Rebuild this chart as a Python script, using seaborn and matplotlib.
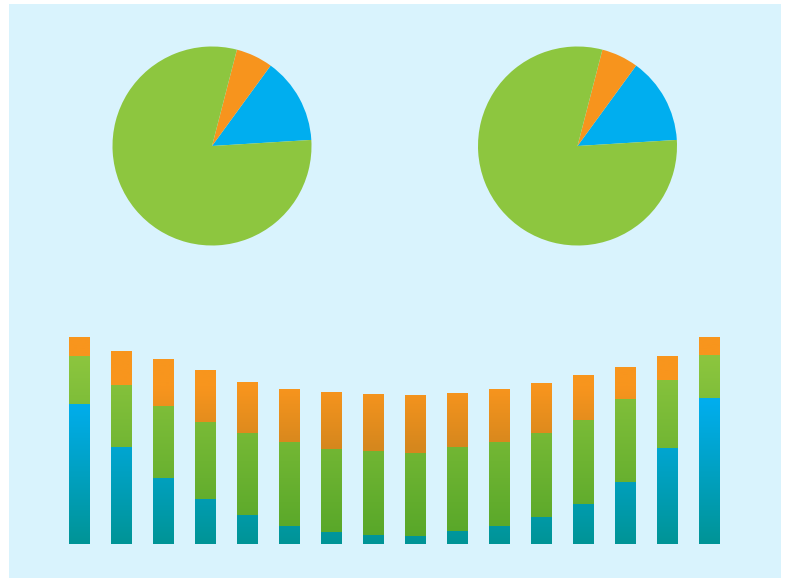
import numpy as np
import pandas as pd
import matplotlib
matplotlib.use("Agg")
import matplotlib.pyplot as plt
from matplotlib.path import Path
from matplotlib.patches import Rectangle
import seaborn as sns

sns.set_theme(style="white")

# ---- data ----
pie_labels = ["Blue", "Orange", "Green"]
pie_values = [14, 6, 80]

categories = [str(i) for i in range(1, 17)]
blue_vals = [67.6, 46.9, 31.9, 21.7, 14.0, 8.7, 5.8, 4.5, 4.0, 6.3, 8.7, 13.0, 19.5, 30.1, 46.5, 70.5]
green_vals = [23.3, 29.8, 34.8, 37.3, 39.6, 40.6, 40.1, 40.4, 40.0, 40.6, 40.6, 40.6, 40.6, 40.0, 32.9, 20.8]
orange_vals = [9.0, 16.6, 22.7, 25.0, 24.6, 25.5, 27.5, 27.5, 28.0, 26.1, 25.5, 24.2, 21.6, 15.5, 11.4, 8.7]

# ---- style ----
W, H = 787, 579
BG = "#d9f3fd"
pie_colors = ["#00aeef", "#f7941d", "#8dc63f"]

# gradient definitions: (y_top, color_top, y_bottom, color_bottom) in data units
grad = {
    "blue": (70, (0, 174, 239), 0, (0, 148, 150)),
    "green": (92, (141, 198, 63), 0, (86, 166, 40)),
    "orange": (76, (248, 149, 29), 46, (213, 135, 30)),
}

fig = plt.figure(figsize=(W / 100, H / 100), dpi=100)
fig.patch.set_facecolor("white")
fig.add_artist(Rectangle((9 / W, 1 - 578 / H), (781 - 9) / W, (578 - 4) / H,
                         transform=fig.transFigure, facecolor=BG, edgecolor="none", zorder=0))


def px_axes(x0, y0, x1, y1):
    return fig.add_axes([x0 / W, 1 - y1 / H, (x1 - x0) / W, (y1 - y0) / H])


# ---- pies ----
for cx in (212, 577.5):
    r = 99.5
    ax = px_axes(cx - r, 146 - r, cx + r, 146 + r)
    ax.pie(pie_values, colors=pie_colors, startangle=3.5, counterclock=True,
           wedgeprops=dict(linewidth=0, antialiased=True))
    ax.set_xlim(-1, 1)
    ax.set_ylim(-1, 1)
    ax.set_axis_off()

# ---- stacked bars ----
axb = px_axes(58.5, 337, 730.5, 544)
axb.set_facecolor("none")

b = np.array(blue_vals)
g = np.array(green_vals)
o = np.array(orange_vals)
layers = [("orange", b + g + o), ("green", b + g), ("blue", b)]

df = pd.DataFrame({"cat": categories})
for i, (name, heights) in enumerate(layers):
    df["h"] = heights
    n_before = len(axb.patches)
    sns.barplot(data=df, x="cat", y="h", ax=axb, color="white", width=0.5,
                saturation=1, linewidth=0)
    patches = axb.patches[n_before:]
    paths = []
    for p in patches:
        p.set_visible(False)
        paths.append(p.get_path().transformed(p.get_patch_transform()))
    comp = Path.make_compound_path(*paths)

    yt, ct, yb, cb = grad[name]
    ys = np.linspace(100, 0, 400)
    t = np.clip((ys - yb) / (yt - yb), 0, 1)[:, None]
    ct = np.array(ct) / 255
    cb = np.array(cb) / 255
    cols = cb + (ct - cb) * t
    img = np.ones((len(ys), 1, 4))
    img[:, 0, :3] = cols
    im = axb.imshow(img, extent=(-0.5, 15.5, 0, 100), aspect="auto",
                    interpolation="bilinear", zorder=2 + i, origin="upper")
    im.set_clip_path(comp, axb.transData)

axb.set_xlim(-0.5, 15.5)
axb.set_ylim(0, 100)
axb.set_axis_off()

fig.savefig("out.png", dpi=100, facecolor=fig.get_facecolor())
